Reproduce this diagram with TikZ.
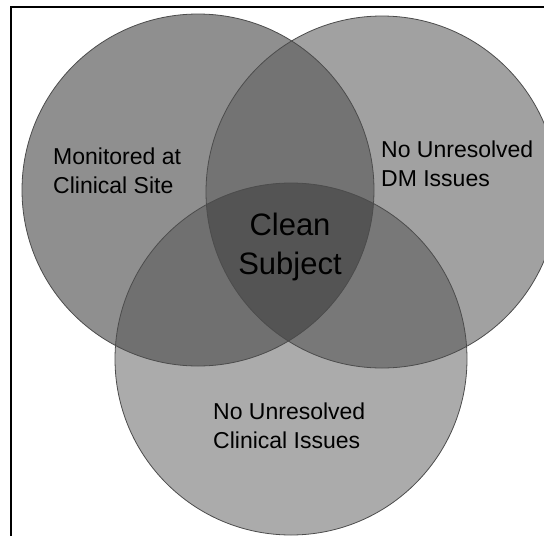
\documentclass[tikz,border=0pt]{standalone}
\usepackage{fontspec}
\setmainfont{Liberation Sans}
\begin{document}
\begin{tikzpicture}[x=1pt,y=-1pt,
  ring/.style={draw=black!70, line width=0.8pt},
  lbl/.style={inner sep=0pt, align=left, font=\fontsize{23}{29}\selectfont},
  big/.style={inner sep=0pt, align=center, font=\fontsize{31}{39}\selectfont}]
\useasboundingbox (0,0) rectangle (544,536);
\def\R{176}
\coordinate (cl) at (198,190);
\coordinate (cr) at (382,192);
\coordinate (cb) at (291,359);
% singles
\fill[black!44] (cl) circle (\R);
\fill[black!37] (cr) circle (\R);
\fill[black!33] (cb) circle (\R);
% doubles
\begin{scope}\clip (cl) circle (\R); \fill[black!55] (cr) circle (\R);\end{scope}
\begin{scope}\clip (cl) circle (\R); \fill[black!56] (cb) circle (\R);\end{scope}
\begin{scope}\clip (cr) circle (\R); \fill[black!53] (cb) circle (\R);\end{scope}
% triple
\begin{scope}\clip (cl) circle (\R); \clip (cr) circle (\R); \fill[black!67] (cb) circle (\R);\end{scope}
% outlines
\draw[ring] (cl) circle (\R);
\draw[ring] (cr) circle (\R);
\draw[ring] (cb) circle (\R);
% frame
\coordinate (f1) at (11,536);
\coordinate (f2) at (11,7);
\coordinate (f3) at (544,7);
\draw[line width=1.6pt] (f1) -- (f2) -- (f3);
% labels (anchor at baseline of last line)
\node[lbl, anchor=base west] (ms) at (53,193) {Monitored at\\Clinical Site};
\node[lbl, anchor=base west] (dm) at (381,186) {No Unresolved\\DM Issues};
\node[lbl, anchor=base west] (ci) at (213,448) {No Unresolved\\Clinical Issues};
\node[big, anchor=base] (cs) at (290,274) {Clean\\Subject};
\end{tikzpicture}
\end{document}
